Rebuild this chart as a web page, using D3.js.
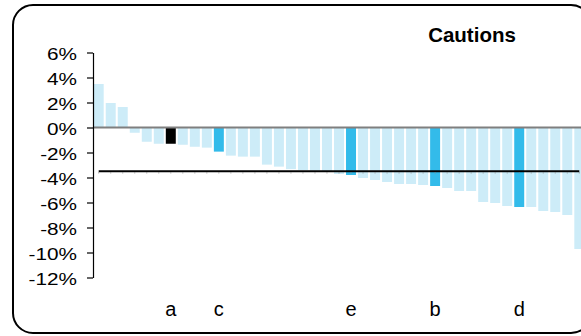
<!DOCTYPE html>
<html>
<head>
<meta charset="utf-8">
<script src="https://cdn.jsdelivr.net/npm/d3@7"></script>
<style>
  html, body { margin: 0; padding: 0; background: #fff; overflow: hidden; }
  svg { display: block; overflow: hidden; }
  text { font-family: "Liberation Sans", Arial, sans-serif; fill: #000; }
</style>
</head>
<body>
<svg id="chart" width="581" height="336" viewBox="0 0 581 336"></svg>
<script>
// ---- data ----
const categories = ["", "", "", "", "", "", "a", "", "", "", "c", "", "", "", "", "", "", "", "", "", "",
                    "e", "", "", "", "", "", "", "b", "", "", "", "", "", "", "d", "", "", "", "", ""];
const values = [3.48, 1.96, 1.64, -0.42, -1.14, -1.30, -1.30, -1.38, -1.54, -1.61, -1.93, -2.25, -2.33,
                -2.33, -2.97, -3.13, -3.33, -3.40, -3.45, -3.50, -3.72, -3.80, -4.04, -4.20, -4.36, -4.52,
                -4.52, -4.60, -4.68, -4.84, -5.08, -5.08, -5.96, -6.04, -6.28, -6.36, -6.36, -6.68, -6.76,
                -7.00, -9.72];
const average = -3.5;
const yTicks = [6, 4, 2, 0, -2, -4, -6, -8, -10, -12];
const title = "Cautions";

// ---- layout ----
const svg = d3.select("#chart");
const W = 581, H = 336;
const plotLeft = 93, plotTop = 52.5, plotBottom = 277.5;
const step = 12;

svg.append("rect")
  .attr("x", 13).attr("y", 5)
  .attr("width", 578).attr("height", 328)
  .attr("rx", 20).attr("ry", 20)
  .attr("fill", "#fff").attr("stroke", "#000").attr("stroke-width", 2);

const idx = values.map((d, i) => i);
const x = d3.scaleBand()
  .domain(idx)
  .range([plotLeft, plotLeft + step * values.length])
  .paddingInner(0.17)
  .paddingOuter(0.06);
const y = d3.scaleLinear().domain([-12, 6]).range([plotBottom, plotTop]);

const colorFor = i => {
  const c = categories[i];
  if (c === "a") return "#000000";
  if (c !== "") return "#33bbea";
  return "#cdecf8";
};

// bars
svg.append("g").selectAll("rect")
  .data(values)
  .join("rect")
  .attr("x", (d, i) => x(i))
  .attr("width", x.bandwidth())
  .attr("y", d => y(Math.max(0, d)))
  .attr("height", d => Math.abs(y(d) - y(0)))
  .attr("fill", (d, i) => colorFor(i));

// zero line
svg.append("line")
  .attr("x1", plotLeft).attr("x2", W)
  .attr("y1", y(0)).attr("y2", y(0))
  .attr("stroke", "#7f7f7f").attr("stroke-width", 2);

// average line
const centers = idx.map(i => x(i) + x.bandwidth() / 2);
svg.append("line")
  .attr("x1", d3.min(centers)).attr("x2", d3.max(centers))
  .attr("y1", y(average)).attr("y2", y(average))
  .attr("stroke", "#000").attr("stroke-width", 2.2);
svg.append("g").selectAll("rect")
  .data(idx)
  .join("rect")
  .attr("x", i => centers[i] - 0.5)
  .attr("y", y(average) + 1.1)
  .attr("width", 1).attr("height", 1)
  .attr("fill", "#888");

// y axis
const yAxis = d3.axisLeft(y).tickValues(yTicks).tickSize(6).tickSizeOuter(0)
  .tickFormat(d => d + "%");
const ga = svg.append("g").attr("transform", `translate(${plotLeft},0)`).call(yAxis);
ga.select(".domain").attr("stroke", "#000").attr("stroke-width", 1.2);
ga.selectAll(".tick line").attr("stroke", "#000").attr("stroke-width", 1.2);
ga.selectAll(".tick text")
  .attr("x", -16)
  .attr("dy", "0.44em")
  .style("font-size", "17px")
  .attr("fill", "#000")
  .each(function () {
    const len = this.getComputedTextLength();
    d3.select(this).attr("textLength", len * 1.22).attr("lengthAdjust", "spacingAndGlyphs");
  });

// category labels
svg.append("g").selectAll("text")
  .data(idx.filter(i => categories[i] !== ""))
  .join("text")
  .attr("x", i => x(i) + x.bandwidth() / 2)
  .attr("y", 315.5)
  .attr("text-anchor", "middle")
  .style("font-size", "20px")
  .text(i => categories[i]);

// title
svg.append("text")
  .attr("x", 472).attr("y", 41.5)
  .attr("text-anchor", "middle")
  .style("font-size", "20.5px")
  .style("font-weight", "bold")
  .text(title);
</script>
</body>
</html>
